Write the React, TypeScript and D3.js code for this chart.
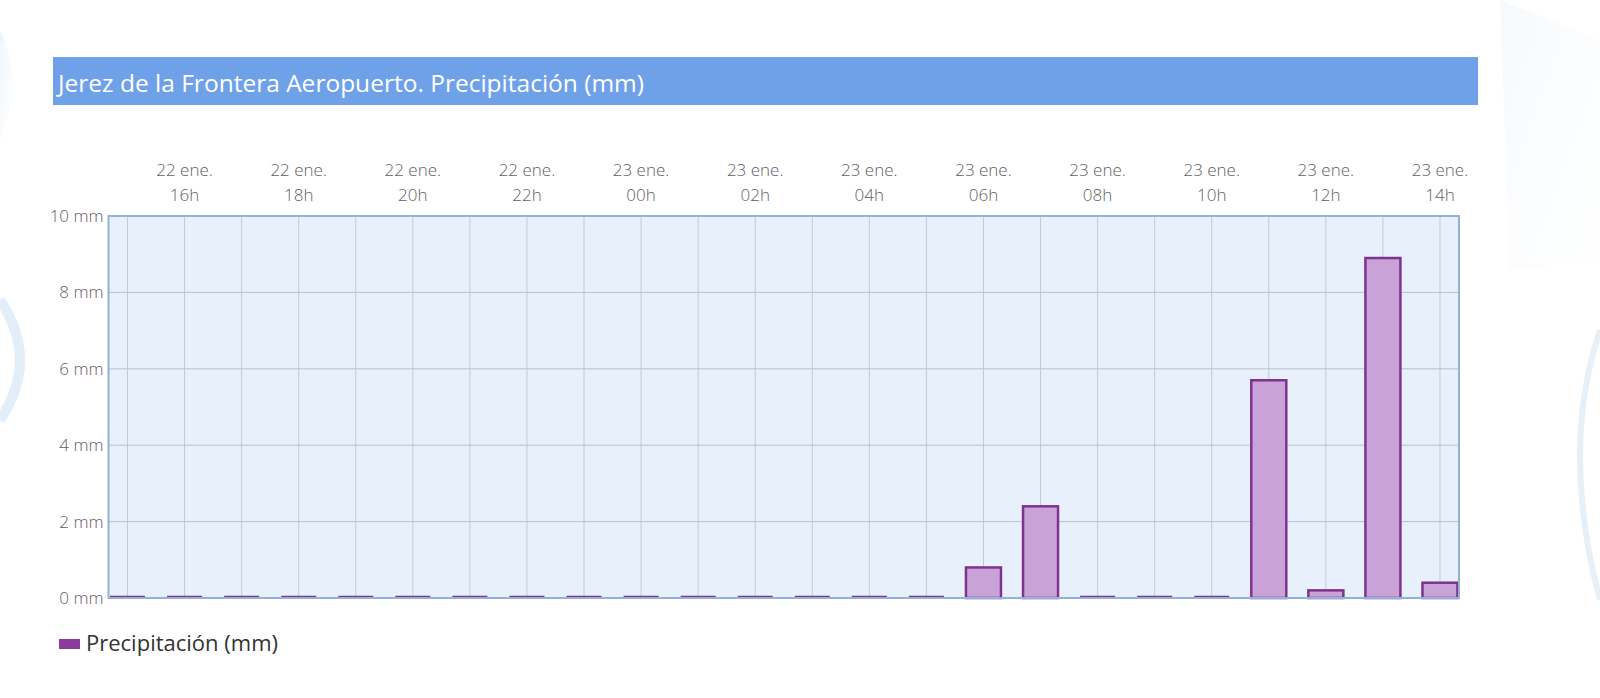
import React from "react";
import * as d3 from "d3";

const hours: string[] = [
  "2023-01-22T15:00", "2023-01-22T16:00", "2023-01-22T17:00", "2023-01-22T18:00",
  "2023-01-22T19:00", "2023-01-22T20:00", "2023-01-22T21:00", "2023-01-22T22:00",
  "2023-01-22T23:00", "2023-01-23T00:00", "2023-01-23T01:00", "2023-01-23T02:00",
  "2023-01-23T03:00", "2023-01-23T04:00", "2023-01-23T05:00", "2023-01-23T06:00",
  "2023-01-23T07:00", "2023-01-23T08:00", "2023-01-23T09:00", "2023-01-23T10:00",
  "2023-01-23T11:00", "2023-01-23T12:00", "2023-01-23T13:00", "2023-01-23T14:00",
];
const precip: number[] = [
  0, 0, 0, 0, 0, 0, 0, 0, 0, 0, 0, 0, 0, 0, 0, 0.8, 2.4, 0, 0, 0, 5.7, 0.2, 8.9, 0.4,
];
const yTicks: number[] = [0, 2, 4, 6, 8, 10];
const title = "Jerez de la Frontera Aeropuerto. Precipitación (mm)";
const seriesName = "Precipitación (mm)";

const W = 1600;
const H = 698;
const FONT = "'Open Sans', 'Noto Sans', sans-serif";

export default function App() {
  const times = hours.map((h) => new Date(h));
  const x = d3
    .scaleTime()
    .domain([d3.timeMinute.offset(times[0], -20), d3.timeMinute.offset(times[times.length - 1], 20)])
    .range([108.5, 1459]);
  const y = d3.scaleLinear().domain([0, 10]).range([598, 216]);
  const [x0, x1] = x.range();
  const [yb, yt] = y.range();
  const barW = 35;
  const tickTimes = times.filter((t) => t.getHours() % 2 === 0);
  const fmtDay = d3.timeFormat("%-d");
  const fmtHour = d3.timeFormat("%H");

  return (
    <svg
      width={W}
      height={H}
      style={{ position: "absolute", left: 0, top: 0, background: "#fff" }}
      fontFamily={FONT}
    >
      <defs>
        <clipPath id="plotclip">
          <rect x={x0} y={yt - 2} width={x1 - x0} height={yb - yt + 4} />
        </clipPath>
        <linearGradient id="deco" x1="0" x2="1" y1="0" y2="1">
          <stop offset="0" stopColor="#dcebf7" stopOpacity={0.8} />
          <stop offset="1" stopColor="#f4f9fd" stopOpacity={0.2} />
        </linearGradient>
      </defs>

      {/* faint decorative background shapes */}
      <path d="M0,30 Q25,80 0,140 Z" fill="url(#deco)" opacity={0.6} />
      <path d="M0,300 Q40,360 0,420" fill="none" stroke="#e3eef8" strokeWidth={10} />
      <path d="M1500,0 L1600,40 L1600,260 L1510,270 Z" fill="url(#deco)" opacity={0.35} />
      <path d="M1600,330 Q1560,450 1600,600" fill="none" stroke="#e6f0f9" strokeWidth={6} />

      {/* title bar */}
      <rect x={53} y={57} width={1425} height={48} fill="#6fa1e9" />
      <text x={58} y={92} fontSize={24.5} fill="#fff">
        {title}
      </text>

      {/* plot background */}
      <rect x={x0} y={yt} width={x1 - x0} height={yb - yt} fill="#e8f0fb" />

      {/* vertical grid */}
      {times.map((t, i) => (
        <line key={"v" + i} x1={x(t)} x2={x(t)} y1={yt} y2={yb} stroke="#c3cad6" strokeWidth={1} />
      ))}
      {/* horizontal grid */}
      {yTicks.map((v) => (
        <line key={"h" + v} x1={x0} x2={x1} y1={y(v)} y2={y(v)} stroke="#b7c1cf" strokeWidth={1} />
      ))}

      {/* bars */}
      <g clipPath="url(#plotclip)">
        {precip.map((v, i) => {
          const cx = x(times[i]);
          if (v === 0) {
            return (
              <line
                key={"b" + i}
                x1={cx - barW / 2}
                x2={cx + barW / 2}
                y1={yb - 1}
                y2={yb - 1}
                stroke="#7e3391"
                strokeWidth={2.5}
              />
            );
          }
          return (
            <rect
              key={"b" + i}
              x={cx - barW / 2}
              y={y(v)}
              width={barW}
              height={yb - y(v)}
              fill="#c9a2d8"
              stroke="#7e3391"
              strokeWidth={2.5}
            />
          );
        })}
      </g>

      {/* plot border */}
      <rect x={x0} y={yt} width={x1 - x0} height={yb - yt} fill="none" stroke="#93b3d2" strokeWidth={2} />

      {/* top x labels */}
      {tickTimes.map((t, i) => (
        <g key={"xl" + i} fill="#606060" fontSize={17} fontWeight={300} textAnchor="middle">
          <text x={x(t)} y={176}>{fmtDay(t) + " ene."}</text>
          <text x={x(t)} y={201}>{fmtHour(t) + "h"}</text>
        </g>
      ))}

      {/* y labels */}
      {yTicks.map((v) => (
        <text
          key={"yl" + v}
          x={x0 - 5}
          y={y(v) + 6}
          textAnchor="end"
          fontSize={17}
          fontWeight={300}
          fill="#606060"
        >
          {v + " mm"}
        </text>
      ))}

      {/* legend */}
      <rect x={59} y={639} width={21} height={10} fill="#8c3a9c" />
      <text x={86} y={651} fontSize={22} fill="#333">
        {seriesName}
      </text>
    </svg>
  );
}
